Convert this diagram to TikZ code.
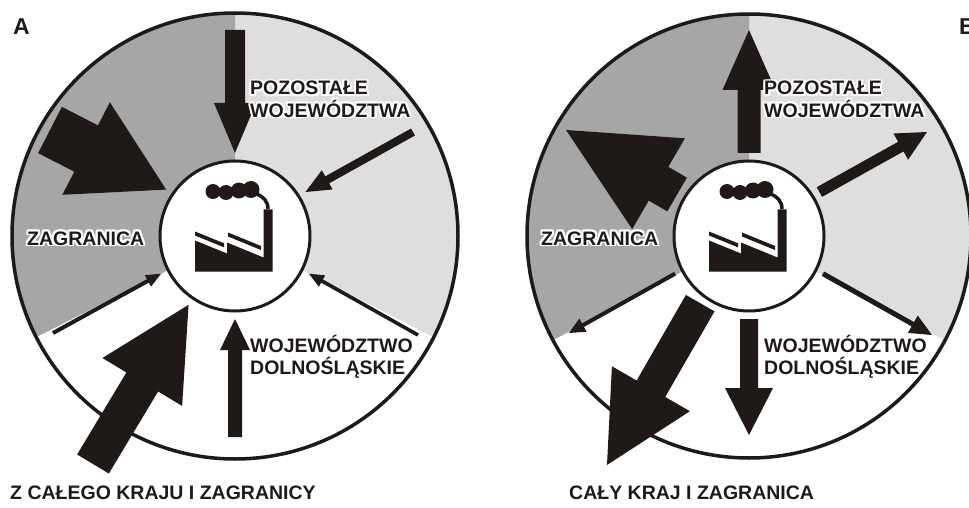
\documentclass[tikz,border=0pt]{standalone}
\usepackage{fontspec}
\setmainfont{Liberation Sans}
\usetikzlibrary{calc}

\definecolor{ink}{RGB}{31,26,23}
\definecolor{zagr}{RGB}{166,166,166}
\definecolor{woj}{RGB}{222,222,222}

\newlength\halow
\setlength\halow{1.8pt}
\newcommand\halo[1]{\leavevmode\rlap{\color{white}%
\rlap{\hspace*{\halow}#1}\rlap{\hspace*{-\halow}#1}%
\rlap{\raisebox{\halow}{#1}}\rlap{\raisebox{-\halow}{#1}}%
\rlap{\hspace*{\halow}\raisebox{\halow}{#1}}\rlap{\hspace*{-\halow}\raisebox{\halow}{#1}}%
\rlap{\hspace*{\halow}\raisebox{-\halow}{#1}}\rlap{\hspace*{-\halow}\raisebox{-\halow}{#1}}}#1}
\newcommand\twoline[2]{\vtop{\hbox{\halo{#1}}\hbox{\halo{#2}}}}

\newcommand\blockarrow[5]{%
\path ($(#2)!#5!(#1)$) coordinate (hb);
\fill[ink] ($(#1)!#3!90:(#2)$) -- ($(hb)!#3!90:(#2)$) -- ($(hb)!#4!90:(#2)$) -- (#2)
  -- ($(hb)!#4!-90:(#2)$) -- ($(hb)!#3!-90:(#2)$) -- ($(#1)!#3!-90:(#2)$) -- cycle;}

\tikzset{factory/.pic={
  \fill[ink] (-40,-35.7) -- (-40,-4.5) -- (-8,-17.5) -- (-8,-6.5) -- (28.5,-21.5) -- (28.5,26.7)
    -- (37.5,26.7) -- (37.5,-35.7) -- cycle;
  \fill[ink] (-40,4.5) -- (-11,-7.3) -- (-11,-11.3) -- (-40,0.5) -- cycle;
  \fill[ink] (-7,3.5) -- (26,-10) -- (26,-14) -- (-7,-0.5) -- cycle;
  \fill[ink] (-22,44.5) circle[radius=7.5] (-9,43.5) circle[radius=7.5] (4,45.5) circle[radius=8]
    (16,46.5) circle[radius=8.5];
  \draw[ink, line width=3.5pt] (21,42) to[out=-15,in=90] (33,27);
}}

\begin{document}
\begin{tikzpicture}[x=1pt, y=1pt,
  lbl/.style={anchor=base west, inner sep=0pt, text=ink, font=\fontsize{19.5}{21}\selectfont\bfseries},
  letter/.style={lbl, font=\fontsize{23}{25}\selectfont\bfseries},
  fab/.style={circle, draw=ink, fill=white, line width=3pt, minimum size=150pt, inner sep=0pt, outer sep=8pt},
  rim/.style={draw=ink, line width=3.5pt}]
\useasboundingbox (0,0) rectangle (969,507);
\coordinate (cA) at (235,271);
\coordinate (cB) at (749,271);
\fill[woj] (cA) -- ++(-27:223) arc[start angle=-27, end angle=90, radius=223] -- cycle;
\fill[zagr] (cA) -- ++(90:223) arc[start angle=90, end angle=207, radius=223] -- cycle;
\fill[woj] (cB) -- ++(-28:222) arc[start angle=-28, end angle=90, radius=222] -- cycle;
\fill[zagr] (cB) -- ++(90:222) arc[start angle=90, end angle=208, radius=222] -- cycle;
\draw[rim] (cA) circle[radius=223];
\draw[rim] (cB) circle[radius=222];
\node[fab] (fabA) at (cA) {};
\node[fab] (fabB) at (cB) {};
\pic at (cA) {factory};
\pic at (cB) {factory};

\coordinate (a1) at (235,477);
\coordinate (a2) at (50,377);
\coordinate (a3) at (413,375);
\coordinate (a4) at (53,174);
\coordinate (a5) at (418,172);
\coordinate (a6) at (235,70);
\coordinate (a7) at (93,43);
\blockarrow{a1}{fabA.90}{10pt}{21pt}{50pt}
\blockarrow{a2}{fabA.146}{26pt}{52pt}{90pt}
\blockarrow{a3}{fabA.32}{4pt}{11pt}{25pt}
\blockarrow{a4}{fabA.207}{2pt}{6.5pt}{15pt}
\blockarrow{a5}{fabA.333}{1.8pt}{6.5pt}{15pt}
\blockarrow{a6}{fabA.270}{7pt}{15pt}{31pt}
\blockarrow{a7}{fabA.236}{18.5pt}{46.5pt}{90pt}

\coordinate (b1) at (749,477);
\coordinate (b2) at (566,377);
\coordinate (b3) at (927,375);
\coordinate (b4) at (569,174);
\coordinate (b5) at (932,172);
\coordinate (b6) at (749,72);
\coordinate (b7) at (607,42);
\blockarrow{fabB.90}{b1}{11.5pt}{26.5pt}{60pt}
\blockarrow{fabB.150}{b2}{19.5pt}{52.5pt}{107pt}
\blockarrow{fabB.32}{b3}{5.5pt}{15pt}{30pt}
\blockarrow{fabB.207}{b4}{2pt}{7.5pt}{16pt}
\blockarrow{fabB.333}{b5}{2.5pt}{10pt}{22pt}
\blockarrow{fabB.270}{b6}{9pt}{24pt}{47pt}
\blockarrow{fabB.234}{b7}{16.5pt}{45pt}{88pt}

\node[letter] (letA) at (13,472) {A};
\node[lbl] (pozA) at (250,412) {\twoline{POZOSTAŁE}{WOJEWÓDZTWA}};
\node[lbl] (zagA) at (27,262) {\halo{ZAGRANICA}};
\node[lbl] (dolA) at (250,155) {\twoline{WOJEWÓDZTWO}{DOLNOŚLĄSKIE}};
\node[lbl] (capA) at (10,8) {Z CAŁEGO KRAJU I ZAGRANICY};
\node[letter] (letB) at (959,472) {B};
\node[lbl] (pozB) at (764,412) {\twoline{POZOSTAŁE}{WOJEWÓDZTWA}};
\node[lbl] (zagB) at (541,262) {\halo{ZAGRANICA}};
\node[lbl] (dolB) at (764,155) {\twoline{WOJEWÓDZTWO}{DOLNOŚLĄSKIE}};
\node[lbl] (capB) at (569,8) {CAŁY KRAJ I ZAGRANICA};
\end{tikzpicture}
\end{document}
